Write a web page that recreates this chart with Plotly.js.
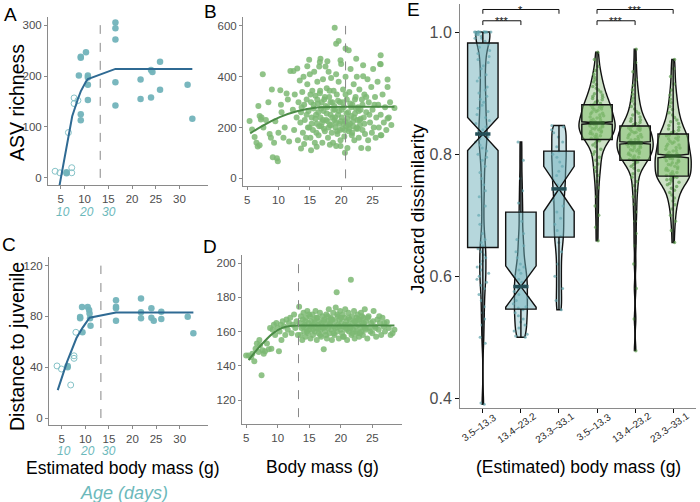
<!DOCTYPE html>
<html><head><meta charset="utf-8">
<script src="https://cdn.plot.ly/plotly-3.0.1.min.js"></script>
<style>html,body{margin:0;padding:0;background:#fff}#chart{width:700px;height:502px}</style>
</head><body><div id="chart"></div>
<script>
// ---------- Panel A: ASV richness vs estimated body mass ----------
const aOpenX = [3.8, 4.8, 6.6, 7.3, 7.3, 7.8, 7.8, 8.6];
const aOpenY = [13, 10, 89, 20, 10, 157, 146, 152];
const aFillX = [6.2, 6.2, 8.8, 9.2, 9.2, 9.2, 9.2, 10.3, 10.7, 10.7, 10.7, 10.7, 16.5, 16.5, 16.5, 16.5, 16.5, 21.8, 21.8, 24.0, 24.3, 24.0, 25.9, 25.9, 31.7, 32.7];
const aFillY = [9, 11, 201, 236, 238, 125, 113, 247, 201, 197, 183, 153, 305, 294, 272, 188, 142, 193, 155, 212, 208, 158, 228, 173, 183, 116];
const aFitX = [3.8, 4.66, 5.8, 6.8, 7.4, 8.6, 9.2, 10.3, 10.7, 16.5, 32.7];
const aFitY = [-62, -17, 42, 92, 121, 155, 170, 189, 194, 214, 214];

// ---------- Panel C: distance to juvenile vs estimated body mass ----------
const cOpenX = [4.0, 4.94, 6.9, 7.6, 7.6, 8.0];
const cOpenY = [41, 38.6, 26, 49, 47, 67.5];
const cFillX = [6.25, 6.25, 8.9, 8.9, 9.3, 9.4, 10.5, 10.8, 10.9, 11.0, 11.1, 16.5, 16.5, 16.5, 16.5, 21.8, 21.8, 21.8, 24.0, 24.0, 24.5, 26.1, 26.1, 31.7, 32.9];
const cFillY = [41, 40, 79.5, 78.5, 87.4, 67.5, 87.4, 85, 82.4, 78.5, 72.7, 92.7, 87.6, 86.5, 76.6, 94.2, 83.2, 78.5, 86.4, 79, 76.6, 83.7, 78, 79.8, 66.7];
const cFitX = [4.15, 6.1, 8.1, 9.4, 10.9, 16.5, 32.9];
const cFitY = [22, 44, 62.8, 71, 79, 83, 83];

// Age (days) labels placed at the corresponding estimated body mass
const ageLabels = ['10', '20', '30'];
const ageMass = [5.4, 10.5, 15.1];

// Breakpoints (dashed lines)
const breakA = 13.3, breakB = 20.7, breakC = 13.3, breakD = 13.3;

// ---------- Panel B: ASV richness vs body mass (wild) ----------
const bPoints = [
 [5.4,226],[5.8,192],[6.2,163],[6.5,140],[6.7,125],[7.0,130],[6.8,285],[7.0,245],[7.2,232],[7.3,240],
 [7.5,410],[7.6,200],[8.0,230],[8.4,300],[8.6,175],[8.8,160],[8.95,350],[9.1,83],[9.3,140],[9.5,225],
 [9.75,79],[9.9,67],[10.0,180],[10.3,347],[10.4,290],[10.5,260],[10.8,160],[11.0,200],[11.3,334],[11.5,310],
 [11.7,145],[11.9,423],[12.4,423],[12.3,270],[12.5,190],[12.6,330],[12.9,240],[13.0,432],[13.6,118],[14.1,135],
 [14.6,441],[14.9,467],[15.2,111],[16.1,124],[16.7,471],[16.6,458],[17.8,461],[18.2,132],[19.2,127],[19.9,465],
 [20.6,101],[19.9,127],[22.4,471],[23.5,402],
 [13.1,150],[13.2,300],[13.4,385],[13.5,220],[13.6,260],[13.8,340],[13.9,180],[14.0,400],[14.1,290],[14.2,230],
 [14.4,160],[14.5,310],[14.6,370],[14.7,200],[14.8,265],[15.0,410],[15.1,160],[15.2,300],[15.3,240],[15.4,345],
 [15.5,190],[15.6,275],[15.7,420],[15.8,140],[15.9,325],[16.0,250],[16.1,215],[16.2,380],[16.3,295],[16.4,170],
 [16.5,440],[16.6,335],[16.7,240],[16.8,205],[16.9,300],[17.0,140],[17.1,390],[17.2,265],[17.3,310],[17.4,185],
 [17.5,440],[17.6,230],[17.7,355],[17.8,280],[17.9,160],[18.0,420],[18.1,320],[18.2,210],[18.3,250],[18.4,395],
 [18.5,180],[18.6,300],[18.7,140],[18.8,345],[18.9,230],
 [18.97,593],[19.2,530],[19.6,541],[20.7,511],[21.2,504],
 [19.0,270],[19.1,200],[19.2,410],[19.3,330],[19.4,175],[19.5,250],[19.6,380],[19.7,215],[19.8,300],[19.9,150],
 [20.0,450],[20.1,240],[20.2,195],[20.3,350],[20.4,280],[20.5,165],[20.6,225],[20.7,400],[20.8,205],[20.9,310],
 [21.0,120],[21.1,260],[21.2,185],[21.3,340],[21.4,215],[21.5,430],[21.6,245],[21.7,170],[21.8,290],[21.9,205],
 [22.0,370],[22.1,150],[22.2,255],[22.3,320],[22.4,195],[22.5,400],[22.6,230],[22.7,280],[22.8,160],[22.9,350],
 [23.0,210],[23.1,270],[23.2,120],[23.3,310],[23.4,190],[23.5,445],[23.6,240],[23.7,330],[23.8,175],
 [24.0,260],[24.2,390],[24.3,150],[24.4,300],[24.6,220],[24.8,360],[24.9,180],[25.0,270],[25.1,430],[25.2,200],
 [25.4,320],[25.5,160],[25.6,240],[25.8,380],[25.9,290],[26.0,200],[26.2,450],[26.3,250],[26.4,170],[26.6,330],
 [26.8,220],[27.0,280],[27.2,190],[27.4,360],[27.6,240],[27.8,300],[28.0,210],[28.5,277],
 [26.3,484],[26.3,449],[27.4,389],[27.4,236],[26.3,170],[24.3,118],
 [15.3,215],[15.6,290],[15.9,235],[16.2,310],[16.5,205],[16.8,275],[17.1,230],[17.4,320],[17.7,255],[18.0,200],
 [18.3,300],[18.6,240],[18.9,285],[19.2,220],[19.5,305],[19.8,190],[20.1,270],[20.4,215],[20.7,330],[21.0,235],
 [21.3,195],[21.6,280],[21.9,225],[22.2,310],[22.5,200],[22.8,265],[23.1,235],[23.4,290],[23.7,215],[24.0,320],
 [19.05,240],[19.35,185],[19.65,265],[19.95,225],[20.25,300],[20.55,190],[20.85,255],[21.15,210],[21.45,295],[21.75,180],
 [22.05,240],[22.35,275],[22.65,195],[22.95,230],[17.25,195],[17.55,285],[17.85,225],[18.15,345],[18.45,210],[18.75,270],
 [16.05,180],[16.35,260],[16.65,345],[16.95,220],[14.5,250],[14.9,200],[15.1,330],[13.7,280],[24.5,250],[25.3,290]
];
const bFitX = [5.5, 7.6, 10.3, 12.95, 16.1, 18.2, 20.7, 28.5];
const bFitY = [177, 209, 242, 264, 279, 281, 282, 282];

// ---------- Panel D: distance to juvenile vs body mass (wild) ----------
const dPoints = [
 [5.0,146],[5.4,146],[5.8,145],[6.0,147],[6.3,142.7],[6.5,150],[6.7,153],[7.0,148],[7.1,155],[7.2,152],
 [7.45,134.4],[7.6,149],[7.8,147],[8.0,148.5],[8.3,153],[8.6,149.6],[8.8,162],[9.0,150],[9.2,161],[9.4,164],
 [9.6,158],[9.8,165],[10.0,162],[10.2,148.5],[10.3,160],[10.5,164],[10.6,155],[10.8,166],[11.0,163],[11.2,158],
 [11.4,167],[11.6,161],[11.8,165],[12.0,168],[12.2,159],[12.4,164],[12.6,170],[12.8,162],[13.0,166],[13.2,158],[13.4,174.5],
 [13.5,165],[13.6,158],[13.7,169],[13.8,162],[13.9,155],[14.0,167],[14.1,171],[14.2,160],[14.3,164],[14.4,157],
 [14.5,168],[14.6,162],[14.7,172],[14.8,159],[14.9,165],[15.0,161],[15.1,169],[15.2,156],[15.3,166],[15.4,163],
 [15.5,170],[15.6,158],[15.7,164],[15.8,167],[15.9,160],[16.0,172],[16.1,162],[16.2,155],[16.3,168],[16.4,164],
 [16.5,159],[16.6,166],[16.7,171],[16.8,161],[16.9,157],[17.0,165],[17.1,169],[17.2,162],[17.3,149.6],[17.4,167],
 [17.5,160],[17.6,163],[17.7,170],[17.8,156],[17.9,166],[18.0,162],[18.1,173],[18.2,159],[18.3,165],[18.4,168],
 [18.5,161],[18.6,155],[18.7,167],[18.8,171],[18.9,163],[19.0,158],[19.1,166],[19.2,174],[19.35,183],[19.4,160],
 [19.5,169],[19.6,164],[19.7,156],[19.8,167],[19.9,172],[20.0,161],[20.1,165],[20.2,159],[20.3,170],[20.4,163],
 [20.5,157],[20.6,168],[20.7,173],[20.8,162],[20.9,166],[21.0,155],[21.1,164],[21.2,171],[21.3,160],[21.4,167],
 [21.6,190.2],[21.5,163],[21.7,158],[21.8,169],[21.9,165],[22.0,161],[22.1,172],[22.2,156],[22.3,166],[22.4,163],
 [22.5,168],[22.6,159],[22.7,170],[22.8,164],[22.9,157],[23.0,167],[23.1,162],[23.2,171],[23.3,160],[23.4,165],
 [23.5,158],[23.6,168],[23.7,163],[23.8,173],[23.9,161],[24.0,166],[24.2,156],[24.4,169],[24.6,162],[24.8,165],
 [25.0,159],[25.2,172],[25.4,163],[25.6,157],[25.8,167],[26.0,161],[26.2,165],[26.4,158],[26.6,168],[26.8,163],
 [27.0,160],[27.3,165.5],[27.6,162],[27.9,158],[28.2,159],[28.5,161],
 [14.05,163],[14.35,166],[14.65,160],[14.95,170],[15.25,163],[15.55,161],[15.85,165],[16.15,168],[16.45,162],[16.75,158],
 [17.05,163],[17.35,166],[17.65,158],[17.95,169],[18.25,164],[18.55,167],[18.85,159],[19.15,162],[19.45,170],[19.75,163],
 [20.05,168],[20.35,157],[20.65,164],[20.95,161],[21.25,168],[21.55,162],[21.85,159],[22.15,166],[22.45,160],[22.75,167],
 [23.05,159],[23.35,169],[23.65,165],[23.95,162],[24.3,168],[24.7,160],[25.1,166],[25.5,162],[26.1,169],[26.9,165]
];
const dFitX = [5.4, 7.1, 9.2, 10.8, 12.4, 14.0, 28.5];
const dFitY = [143.3, 151, 158.8, 162.3, 163.4, 163.5, 163.5];

// ---------- Panel E: Jaccard dissimilarity per body-mass bin ----------
const massBins = ['3.5–13.3', '13.4–23.2', '23.3–33.1', '3.5–13.3', '13.4–23.2', '23.3–33.1'];
const jacc0 = [1,1,1,1,1,1,1,1,1,1,1,1,0.998,0.996,0.995,0.993,0.99,0.99,0.985,0.98,0.975,0.97,0.965,0.96,0.955,0.95,0.945,0.94,0.93,0.925,
 0.92,0.91,0.905,0.9,0.895,0.89,0.885,0.88,0.875,0.87,0.865,0.86,0.855,0.85,0.845,0.84,0.838,0.835,0.833,0.83,0.828,0.825,0.82,0.815,0.81,
 0.805,0.8,0.795,0.79,0.78,0.77,0.76,0.75,0.74,0.73,0.715,0.70,0.685,0.67,0.66,0.655,0.65,0.645,0.64,0.635,0.63,0.625,0.62,0.615,0.61,
 0.605,0.6,0.595,0.59,0.585,0.58,0.57,0.56,0.55,0.54,0.53,0.52,0.5,0.49,0.39,0.392];
const jacc1 = [0.5,0.502,0.505,0.51,0.515,0.52,0.525,0.53,0.535,0.54,0.545,0.548,0.55,0.555,0.56,0.565,0.57,0.575,0.58,0.583,
 0.585,0.59,0.595,0.6,0.605,0.61,0.615,0.62,0.63,0.64,0.65,0.66,0.67,0.69,0.705,0.72,0.74,0.76,0.79,0.82];
const jacc2 = [0.545,0.56,0.58,0.6,0.62,0.64,0.655,0.665,0.675,0.685,0.695,0.705,0.715,0.725,0.735,0.743,0.75,0.758,0.765,0.772,
 0.78,0.787,0.795,0.8,0.805,0.812,0.82,0.828,0.835,0.84,0.845,0.847];
const jacc3 = [0.658,0.68,0.70,0.715,0.73,0.745,0.755,0.765,0.772,0.778,0.784,0.79,0.795,0.8,0.804,0.808,0.812,0.815,0.818,0.821,0.822,0.824,
 0.825,0.826,0.828,0.829,0.83,0.832,0.833,0.834,0.836,0.837,0.838,0.84,0.841,0.842,0.843,0.844,0.845,0.846,0.847,0.848,0.849,0.85,0.851,
 0.852,0.853,0.855,0.856,0.857,0.859,0.86,0.861,0.863,0.864,0.866,0.867,0.869,0.87,0.872,0.873,0.874,0.876,0.877,0.878,0.88,0.881,
 0.883,0.885,0.887,0.889,0.891,0.893,0.895,0.897,0.899,0.902,0.905,0.908,0.911,0.914,0.918,0.922,0.926,0.931,0.937,0.944,0.955,0.967];
const jacc4 = [0.478,0.53,0.58,0.62,0.65,0.67,0.69,0.705,0.718,0.73,0.74,0.748,0.755,0.762,0.768,0.773,0.777,0.78,0.783,0.785,0.787,0.789,0.79,
 0.791,0.792,0.794,0.795,0.797,0.798,0.8,0.801,0.802,0.804,0.805,0.806,0.807,0.808,0.81,0.811,0.812,0.813,0.814,0.815,0.816,0.817,0.818,
 0.819,0.82,0.821,0.823,0.824,0.825,0.827,0.828,0.829,0.831,0.832,0.833,0.835,0.836,0.837,0.839,0.84,0.841,0.842,0.843,0.845,0.846,
 0.848,0.85,0.852,0.854,0.856,0.858,0.861,0.864,0.867,0.87,0.874,0.878,0.882,0.887,0.892,0.898,0.905,0.913,0.922,0.935,0.95,0.972];
const jacc5 = [0.655,0.675,0.69,0.7,0.71,0.717,0.723,0.728,0.733,0.737,0.741,0.744,0.747,0.75,0.752,0.754,0.756,0.758,0.759,0.761,0.762,0.763,0.764,
 0.765,0.767,0.768,0.77,0.771,0.773,0.774,0.776,0.777,0.779,0.78,0.782,0.783,0.785,0.786,0.788,0.789,0.79,0.792,0.793,0.794,0.796,0.797,
 0.798,0.8,0.801,0.803,0.805,0.806,0.808,0.81,0.811,0.813,0.815,0.816,0.818,0.82,0.821,0.823,0.825,0.826,0.828,0.83,0.831,0.833,
 0.835,0.837,0.839,0.841,0.844,0.847,0.85,0.853,0.856,0.86,0.864,0.868,0.873,0.878,0.884,0.89,0.897,0.905,0.915,0.927,0.94,0.955];
const jaccGroups = [jacc0, jacc1, jacc2, jacc3, jacc4, jacc5];
// Box statistics
const boxQ1 = [0.647, 0.546, 0.664, 0.824, 0.790, 0.764];
const boxMed = [0.833, 0.583, 0.743, 0.851, 0.8185, 0.797];
const boxQ3 = [0.982, 0.705, 0.805, 0.881, 0.846, 0.833];
const boxLo = [0.39, 0.50, 0.545, 0.658, 0.478, 0.655];
const boxHi = [1.0, 0.82, 0.847, 0.967, 0.972, 0.955];
const boxNotch = [0.027, 0.034, 0.037, 0.002, 0.002, 0.003];
// Significance comparisons: [from bin, to bin, label, bracket height]
const comparisons = [[0, 1, '***', 1.0185], [0, 2, '*', 1.037], [3, 4, '***', 1.0185], [3, 5, '***', 1.037]];

// ---------- styles ----------
const TEAL = '#72b3ba', TEAL_OPEN = '#86c3c8', TEAL_LINE = '#2f6a93';
const GREEN = '#7cb873', GREEN_LINE = '#4b8b46';
const AXC = '#8a8a8a', TICKC = '#4d4d4d';
const FONT = 'Liberation Sans, Arial, Helvetica, sans-serif';

const traces = [];
function sc(x, y, xa, ya, extra) { return Object.assign({x: x, y: y, xaxis: xa, yaxis: ya, type: 'scatter', hoverinfo: 'skip'}, extra); }

// A
traces.push(sc(aOpenX, aOpenY, 'x', 'y', {mode: 'markers', marker: {symbol: 'circle-open', size: 6, color: TEAL_OPEN, line: {width: 1}}}));
traces.push(sc(aFillX, aFillY, 'x', 'y', {mode: 'markers', marker: {size: 6.5, color: TEAL, opacity: 0.95}}));
traces.push(sc(aFitX, aFitY, 'x', 'y', {mode: 'lines', line: {color: TEAL_LINE, width: 2}}));
// C
traces.push(sc(cOpenX, cOpenY, 'x3', 'y3', {mode: 'markers', marker: {symbol: 'circle-open', size: 6, color: TEAL_OPEN, line: {width: 1}}}));
traces.push(sc(cFillX, cFillY, 'x3', 'y3', {mode: 'markers', marker: {size: 6.5, color: TEAL, opacity: 0.95}}));
traces.push(sc(cFitX, cFitY, 'x3', 'y3', {mode: 'lines', line: {color: TEAL_LINE, width: 2}}));
// B
traces.push(sc(bPoints.map(p => p[0]), bPoints.map(p => p[1]), 'x2', 'y2', {mode: 'markers', marker: {size: 6, color: GREEN, opacity: 0.85}}));
traces.push(sc(bFitX, bFitY, 'x2', 'y2', {mode: 'lines', line: {color: GREEN_LINE, width: 2, shape: 'spline'}}));
// D
traces.push(sc(dPoints.map(p => p[0]), dPoints.map(p => p[1]), 'x4', 'y4', {mode: 'markers', marker: {size: 6, color: GREEN, opacity: 0.85}}));
traces.push(sc(dFitX, dFitY, 'x4', 'y4', {mode: 'lines', line: {color: GREEN_LINE, width: 2, shape: 'spline'}}));

// E
const vWidth = [0.37, 0.34, 0.38, 0.95, 0.95, 0.95];
const vBw = [0.018, 0.016, 0.016, 0.012, 0.012, 0.012];
for (let i = 0; i < 6; i++) {
  const g = i >= 3;
  traces.push({type: 'box', x0: i, y: jaccGroups[i], xaxis: 'x5', yaxis: 'y5', width: 0.8, boxpoints: 'all', jitter: 0.55, pointpos: 0,
    fillcolor: 'rgba(0,0,0,0)', line: {width: 0, color: 'rgba(0,0,0,0)'}, whiskerwidth: 0,
    marker: {size: g ? 3.5 : 3, color: g ? '#5f9e51' : '#5fa3ab', opacity: 0.7}, hoverinfo: 'skip'});
}
for (let i = 0; i < 6; i++) {
  const g = i >= 3;
  traces.push({type: 'violin', x0: i, y: jaccGroups[i], xaxis: 'x5', yaxis: 'y5', width: vWidth[i], scalemode: 'width', spanmode: 'hard',
    bandwidth: vBw[i], points: false, box: {visible: false}, meanline: {visible: false},
    line: {color: '#111', width: 1.4}, fillcolor: g ? 'rgba(110,170,90,0.35)' : 'rgba(100,170,180,0.35)', hoverinfo: 'skip'});
}
for (const [idx, fill] of [[[0, 1, 2], 'rgba(110,175,185,0.5)'], [[3, 4, 5], 'rgba(135,195,115,0.55)']]) {
  traces.push({type: 'box', x: idx, q1: idx.map(i => boxQ1[i]), median: idx.map(i => boxMed[i]), q3: idx.map(i => boxQ3[i]),
    lowerfence: idx.map(i => boxLo[i]), upperfence: idx.map(i => boxHi[i]), notchspan: idx.map(i => boxNotch[i]),
    notched: true, notchwidth: 0.5, width: 0.8, whiskerwidth: 0, boxpoints: false, fillcolor: fill,
    line: {color: '#111', width: 1.4}, xaxis: 'x5', yaxis: 'y5', hoverinfo: 'skip'});
}
// thicker median bars (ggplot fatten)
for (let i = 0; i < 6; i++) {
  traces.push(sc([i - 0.2, i + 0.2], [boxMed[i], boxMed[i]], 'x5', 'y5', {mode: 'lines', line: {color: i >= 3 ? '#2f5a2a' : '#244f57', width: 3.5}}));
}
// significance brackets
const leg = 0.007;
for (const [a, b, , h] of comparisons) {
  traces.push(sc([a, a, b, b], [h - leg, h, h, h - leg], 'x5', 'y5', {mode: 'lines', line: {color: '#111', width: 1}}));
}

// ---------- layout ----------
const W = 700, H = 502;
const dx = (a, b) => [a / W, b / W];
const dy = (top, bot) => [1 - bot / H, 1 - top / H];
const base = {showgrid: false, zeroline: false, showline: true, linecolor: AXC, linewidth: 1, ticks: 'outside', ticklen: 3,
  tickcolor: AXC, tickfont: {size: 11.5, color: TICKC, family: FONT}, fixedrange: true};
const massTicks = [5, 10, 15, 20, 25, 30];
const wildTicks = [5, 10, 15, 20, 25];

const shapes = [
  {type: 'line', xref: 'x', yref: 'y', x0: breakA, x1: breakA, y0: 0, y1: 300, line: {color: '#888', width: 1, dash: 'dash'}},
  {type: 'line', xref: 'x2', yref: 'y2', x0: breakB, x1: breakB, y0: 0, y1: 600, line: {color: '#888', width: 1, dash: 'dash'}},
  {type: 'line', xref: 'x3', yref: 'y3', x0: breakC, x1: breakC, y0: 0, y1: 120, line: {color: '#888', width: 1, dash: 'dash'}},
  {type: 'line', xref: 'x4', yref: 'y4', x0: breakD, x1: breakD, y0: 110, y1: 200, line: {color: '#888', width: 1, dash: 'dash'}}
];

const ann = [];
const txt = (text, x, y, size, extra) => Object.assign({text: text, x: x, y: y, xref: 'paper', yref: 'paper', showarrow: false,
  xanchor: 'center', yanchor: 'middle', borderpad: 0, font: {size: size, color: '#000', family: FONT}}, extra || {});
ann.push(txt('A', 10 / W, 1 - 15 / H, 19));
ann.push(txt('B', 210 / W, 1 - 12 / H, 19));
ann.push(txt('C', 9 / W, 1 - 244 / H, 19));
ann.push(txt('D', 210 / W, 1 - 246 / H, 19));
ann.push(txt('E', 413 / W, 1 - 10 / H, 19));
ann.push(txt('ASV richness', 17 / W, 1 - 103 / H, 19.5, {textangle: -90}));
ann.push(txt('Distance to juvenile', 17 / W, 1 - 347 / H, 19.5, {textangle: -90}));
ann.push(txt('Estimated body mass (g)', 123 / W, 1 - 468 / H, 17.5));
ann.push(txt('Body mass (g)', 322 / W, 1 - 467 / H, 17.5));
ann.push(txt('(Estimated) body mass (g)', 578 / W, 1 - 467 / H, 17.5));
ann.push(txt('Jaccard dissimilarity', 417 / W, 1 - 209 / H, 19, {textangle: -90}));
ann.push(txt('Age (days)', 124 / W, 1 - 493 / H, 18, {font: {size: 18, color: '#6cb9bb', family: FONT, style: 'italic'}}));
ageLabels.forEach((t, k) => {
  ann.push({text: t, x: ageMass[k], xref: 'x', y: 1 - 211.5 / H, yref: 'paper', showarrow: false, xanchor: 'center', yanchor: 'middle', borderpad: 0,
    font: {size: 12, color: '#6cb9bb', family: FONT, style: 'italic'}});
  ann.push({text: t, x: ageMass[k], xref: 'x3', y: 1 - 450.5 / H, yref: 'paper', showarrow: false, xanchor: 'center', yanchor: 'middle', borderpad: 0,
    font: {size: 12, color: '#6cb9bb', family: FONT, style: 'italic'}});
});
massBins.forEach((t, i) => {
  ann.push({text: t, x: i, xref: 'x5', xshift: -4, y: 1 - 427 / H, yref: 'paper', showarrow: false, textangle: -35,
    xanchor: 'center', yanchor: 'middle', font: {size: 10, color: '#222', family: FONT}});
});
for (const [a, b, lab, h] of comparisons) {
  ann.push({text: lab, x: (a + b) / 2, xref: 'x5', y: h, yref: 'y5', showarrow: false, xanchor: 'center', yanchor: 'top', yshift: 7.5,
    font: {size: 11, color: '#111', family: FONT}});
}

const layout = {
  width: W, height: H, margin: {l: 0, r: 0, t: 0, b: 0}, showlegend: false,
  paper_bgcolor: '#fff', plot_bgcolor: 'rgba(0,0,0,0)', font: {family: FONT},
  boxmode: 'overlay', violinmode: 'overlay',
  xaxis: Object.assign({}, base, {domain: dx(48, 208), range: [2.3, 36], tickvals: massTicks, anchor: 'y'}),
  yaxis: Object.assign({}, base, {domain: dy(17, 185), range: [-14, 316], tickvals: [0, 100, 200, 300], anchor: 'x'}),
  xaxis2: Object.assign({}, base, {domain: dx(243, 402), range: [4.35, 29.7], tickvals: wildTicks, anchor: 'y2'}),
  yaxis2: Object.assign({}, base, {domain: dy(17, 186), range: [-30, 635], tickvals: [0, 200, 400, 600], anchor: 'x2'}),
  xaxis3: Object.assign({}, base, {domain: dx(49, 208), range: [2.3, 36], tickvals: massTicks, anchor: 'y3'}),
  yaxis3: Object.assign({}, base, {domain: dy(257, 425), range: [-5.5, 126.8], tickvals: [0, 40, 80, 120], anchor: 'x3'}),
  xaxis4: Object.assign({}, base, {domain: dx(242, 402), range: [4.35, 29.7], tickvals: wildTicks, anchor: 'y4'}),
  yaxis4: Object.assign({}, base, {domain: dy(255, 424), range: [106, 204.7], tickvals: [120, 140, 160, 180, 200], anchor: 'x4'}),
  xaxis5: Object.assign({}, base, {domain: dx(460, 696), range: [-0.6, 5.6], type: 'linear', tickvals: [0, 1, 2, 3, 4, 5],
    showticklabels: false, tickcolor: '#111', ticklen: 4, anchor: 'y5'}),
  yaxis5: Object.assign({}, base, {domain: dy(4, 408), range: [0.384, 1.046], tickvals: [0.4, 0.6, 0.8, 1.0], tickformat: '.1f',
    tickcolor: '#111', ticklen: 4, tickfont: {size: 16, color: TICKC, family: FONT}, anchor: 'x5'}),
  shapes: shapes, annotations: ann
};

Plotly.newPlot('chart', traces, layout, {staticPlot: true, displayModeBar: false});
</script></body></html>
